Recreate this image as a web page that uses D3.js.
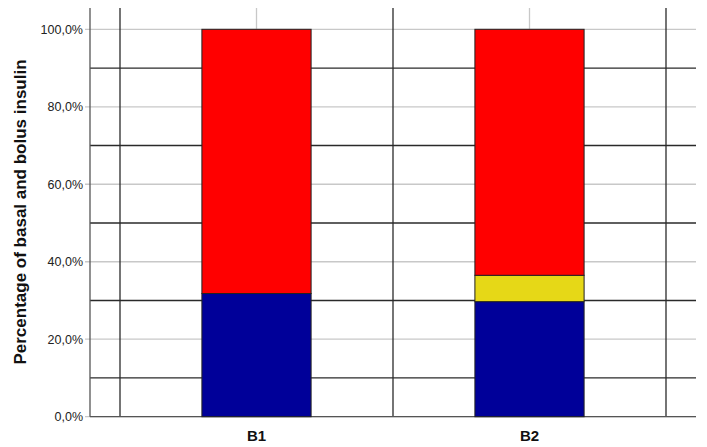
<!DOCTYPE html>
<html lang="en">
<head>
<meta charset="UTF-8">
<title>Basal and bolus insulin</title>
<style>
  body { margin: 0; background: #fff; }
  text { font-family: "Liberation Sans", Arial, sans-serif; }
</style>
</head>
<body>
<script src="https://d3js.org/d3.v7.min.js"></script>
<div id="chart"></div>
<script>
// data (percent of total insulin)
var categories = ["B1", "B2"];
var basal = [31.8, 29.7];
var mixed = [0, 6.8];
var bolus = [68.2, 63.5];
var yTicks = [0, 20, 40, 60, 80, 100];
var yMinorLines = [10, 30, 50, 70, 90];

var W = 707, H = 447;
var margin = {top: 8, right: 11, bottom: 30, left: 90};

var svg = d3.select("#chart").append("svg")
    .attr("width", W)
    .attr("height", H);

var plotLeft = margin.left, plotRight = W - margin.right;

// y: 0 at 416.7, 100 at 29.3
var y = d3.scaleLinear().domain([0, 100]).range([416.7, 29.3]);

// categories sit between the black vertical lines
var x = d3.scaleBand().domain(categories).range([120, 666]).padding(0);
var barW = x.bandwidth() * 0.4;

var grid = svg.append("g");

// grey gridlines at labelled ticks
grid.selectAll("line.major")
    .data(yTicks)
    .enter().append("line")
    .attr("x1", plotLeft - 5).attr("x2", plotRight)
    .attr("y1", function(d) { return y(d); })
    .attr("y2", function(d) { return y(d); })
    .attr("stroke", "#c8c8c8")
    .attr("stroke-width", 1.3);

// black lines between
grid.selectAll("line.minor")
    .data(yMinorLines)
    .enter().append("line")
    .attr("x1", plotLeft).attr("x2", plotRight)
    .attr("y1", function(d) { return y(d); })
    .attr("y2", function(d) { return y(d); })
    .attr("stroke", "#2a2a2a")
    .attr("stroke-width", 1.3);

// vertical black lines at band edges
var vLines = [x.range()[0]].concat(categories.map(function(c) { return x(c) + x.bandwidth(); }));
grid.selectAll("line.v")
    .data(vLines)
    .enter().append("line")
    .attr("x1", function(d) { return d; })
    .attr("x2", function(d) { return d; })
    .attr("y1", margin.top).attr("y2", y(0))
    .attr("stroke", "#2a2a2a")
    .attr("stroke-width", 1.3);

// grey tick at top above each category
grid.selectAll("line.ctick")
    .data(categories)
    .enter().append("line")
    .attr("x1", function(d) { return x(d) + x.bandwidth() / 2; })
    .attr("x2", function(d) { return x(d) + x.bandwidth() / 2; })
    .attr("y1", margin.top).attr("y2", y(100))
    .attr("stroke", "#c8c8c8")
    .attr("stroke-width", 1.3);

// left axis line and baseline
svg.append("line")
    .attr("x1", plotLeft).attr("x2", plotLeft)
    .attr("y1", margin.top).attr("y2", y(0))
    .attr("stroke", "#555").attr("stroke-width", 1.3);
svg.append("line")
    .attr("x1", plotLeft).attr("x2", plotRight)
    .attr("y1", y(0)).attr("y2", y(0))
    .attr("stroke", "#555").attr("stroke-width", 1.3);

// stacked bars
var rows = categories.map(function(c, i) {
    return {cat: c, basal: basal[i], mixed: mixed[i], bolus: bolus[i]};
});
var stack = d3.stack().keys(["basal", "mixed", "bolus"]);
var colors = {basal: "#000099", mixed: "#e6d817", bolus: "#ff0000"};

svg.append("g").selectAll("g")
    .data(stack(rows))
    .enter().append("g")
    .attr("fill", function(d) { return colors[d.key]; })
    .selectAll("rect")
    .data(function(d) { return d.filter(function(p) { return p[1] - p[0] > 0; }); })
    .enter().append("rect")
    .attr("x", function(d) { return x(d.data.cat) + (x.bandwidth() - barW) / 2; })
    .attr("width", barW)
    .attr("y", function(d) { return y(d[1]); })
    .attr("height", function(d) { return y(d[0]) - y(d[1]); })
    .attr("stroke", "#222")
    .attr("stroke-width", 1);

// y tick labels
svg.selectAll("text.ytick")
    .data(yTicks)
    .enter().append("text")
    .attr("x", plotLeft - 7)
    .attr("y", function(d) { return y(d); })
    .attr("dy", "0.35em")
    .attr("text-anchor", "end")
    .attr("font-size", 12.5)
    .attr("fill", "#222")
    .text(function(d) { return d.toFixed(1).replace(".", ",") + "%"; });

// category labels
svg.selectAll("text.xcat")
    .data(categories)
    .enter().append("text")
    .attr("x", function(d) { return x(d) + x.bandwidth() / 2; })
    .attr("y", 441)
    .attr("text-anchor", "middle")
    .attr("font-size", 15)
    .attr("font-weight", "bold")
    .attr("fill", "#111")
    .text(function(d) { return d; });

// y axis title
svg.append("text")
    .attr("transform", "translate(26,212) rotate(-90)")
    .attr("text-anchor", "middle")
    .attr("font-size", 17)
    .attr("font-weight", "bold")
    .attr("fill", "#111")
    .text("Percentage of basal and bolus insulin");
</script>
</body>
</html>
